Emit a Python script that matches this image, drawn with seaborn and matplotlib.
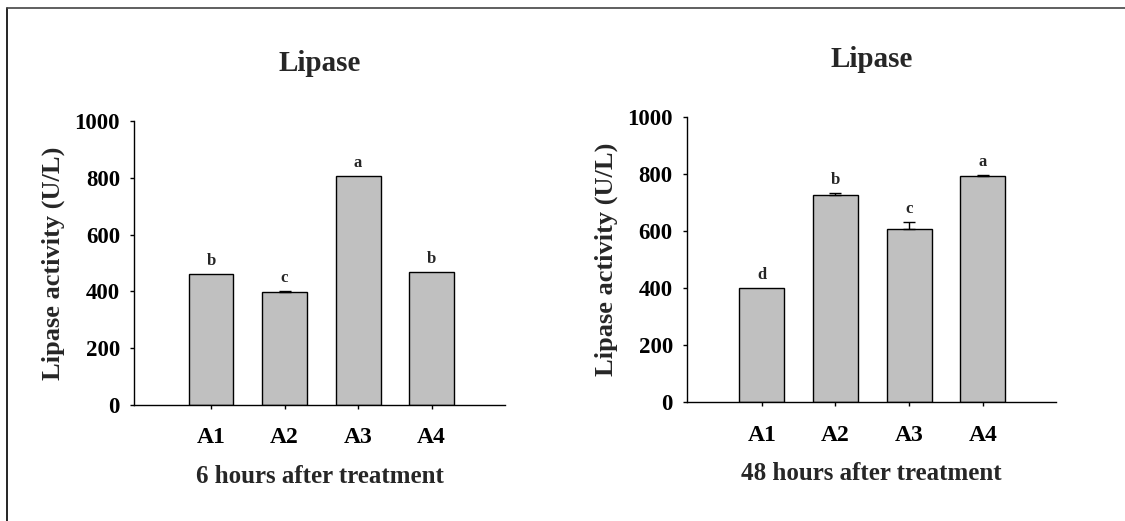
import matplotlib
matplotlib.use("Agg")
import matplotlib.pyplot as plt
from matplotlib.lines import Line2D
import seaborn as sns
import pandas as pd

# ---- data ----
groups = ["A1", "A2", "A3", "A4"]
vals_6h = [460, 398, 805, 469]
err_6h = [0, 4, 0, 0]
letters_6h = ["b", "c", "a", "b"]
vals_48h = [401, 725, 606, 792]
err_48h = [0, 9, 24, 4]
letters_48h = ["d", "b", "c", "a"]
title = "Lipase"
ylabel = "Lipase activity (U/L)"
xlabels = ["6 hours after treatment", "48 hours after treatment"]
yticks = [0, 200, 400, 600, 800, 1000]

sns.set_theme(style="ticks")
plt.rcParams["font.family"] = ["Liberation Serif", "DejaVu Serif"]
plt.rcParams["font.weight"] = "bold"

fig = plt.figure(figsize=(11.25, 5.21), dpi=100)
ax1 = fig.add_axes([0.119, 0.2226, 0.330, 0.5452])
ax2 = fig.add_axes([0.6104, 0.2278, 0.328, 0.5482])

panels = [
    (ax1, vals_6h, err_6h, letters_6h, xlabels[0], (-1.05, 4.0)),
    (ax2, vals_48h, err_48h, letters_48h, xlabels[1], (-1.02, 3.99)),
]

for ax, vals, errs, lets, xl, xlim in panels:
    df = pd.DataFrame({"group": groups, "value": vals})
    sns.barplot(data=df, x="group", y="value", ax=ax, color="#c0c0c0",
                saturation=1, width=0.61, edgecolor="black", linewidth=1.0,
                errorbar=None)
    xs = list(range(len(groups)))
    ex = [x for x, e in zip(xs, errs) if e > 0]
    ev = [v for v, e in zip(vals, errs) if e > 0]
    ee = [e for e in errs if e > 0]
    ax.errorbar(ex, ev, yerr=[[0] * len(ee), ee], fmt="none",
                ecolor="black", elinewidth=1.0, capsize=4, capthick=1.0)
    for x, v, e, l in zip(xs, vals, errs, lets):
        ax.text(x, v + e + 18, l, ha="center", va="bottom",
                fontsize=12, fontweight="bold")
    ax.set_ylim(0, 1000)
    ax.set_xlim(*xlim)
    ax.set_yticks(yticks)
    ax.set_yticklabels([str(t) for t in yticks])
    for s in ["top", "right"]:
        ax.spines[s].set_visible(False)
    for s in ["left", "bottom"]:
        ax.spines[s].set_color("black")
        ax.spines[s].set_linewidth(1.0)
    ax.tick_params(axis="y", direction="out", length=3, width=1, pad=7,
                   labelsize=16.5, colors="black")
    ax.tick_params(axis="x", direction="out", length=3, width=1, pad=13,
                   labelsize=17, colors="black")
    for lab in ax.get_xticklabels() + ax.get_yticklabels():
        lab.set_fontweight("bold")
    ax.set_ylabel(ylabel, fontsize=19, fontweight="bold", labelpad=7)
    ax.set_xlabel(xl, fontsize=18, fontweight="bold", labelpad=12)
    ax.set_title(title, fontsize=21, fontweight="bold", pad=36)
    ax.set_facecolor("white")

# frame lines on the figure (left and top)
fig.add_artist(Line2D([7 / 1125, 7 / 1125], [0, 1 - 8 / 521],
                      transform=fig.transFigure, color="black", linewidth=1.2))
fig.add_artist(Line2D([7 / 1125, 1], [1 - 8 / 521, 1 - 8 / 521],
                      transform=fig.transFigure, color="#444444", linewidth=1.2))

fig.savefig("out.png", dpi=100, facecolor="white")
